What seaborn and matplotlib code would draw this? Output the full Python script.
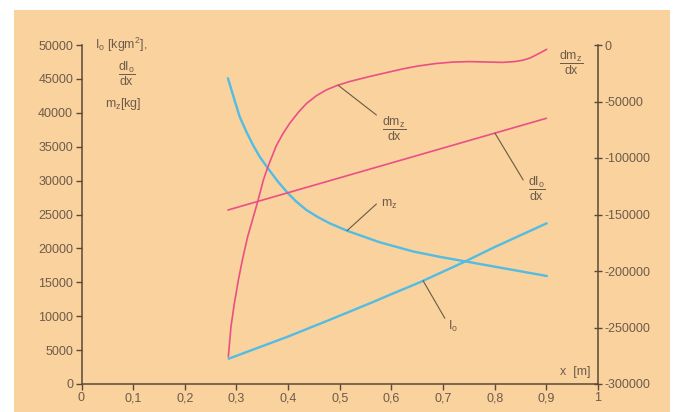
import numpy as np
import pandas as pd
import matplotlib
matplotlib.use("Agg")
import matplotlib.pyplot as plt
from matplotlib.patches import Rectangle
import seaborn as sns

# ---------------- data ----------------
x_dmz = [0.2843, 0.2894, 0.296, 0.3037, 0.3114, 0.3217, 0.3328, 0.3411, 0.3521, 0.361,
         0.3773, 0.39, 0.4031, 0.42, 0.4355, 0.455, 0.4742, 0.495, 0.5194, 0.5568,
         0.59, 0.6215, 0.65, 0.686, 0.72, 0.7506, 0.78, 0.8153, 0.84, 0.854, 0.868,
         0.8798, 0.89, 0.9006]
dmz_dx = [-275800, -249300, -228500, -208000, -190300, -169600, -151900, -138700, -119500,
          -107700, -89000, -78500, -69300, -59500, -51800, -44800, -39700, -35800, -32300,
          -28000, -24500, -21200, -18700, -16400, -15100, -14700, -15000, -15400, -14600,
          -13500, -11600, -8900, -6500, -3800]

x_mz = [0.2835, 0.2933, 0.3062, 0.3192, 0.332, 0.345, 0.361, 0.3804, 0.3998, 0.416,
        0.4355, 0.458, 0.4806, 0.516, 0.5775, 0.642, 0.6938, 0.742, 0.815, 0.901]
m_z = [45090, 42620, 39430, 37210, 35250, 33520, 31810, 29840, 28130, 26890,
       25660, 24600, 23700, 22550, 20900, 19550, 18750, 18100, 17100, 15930]

x_io = [0.2849, 0.4, 0.48, 0.56, 0.6, 0.655, 0.742, 0.8, 0.9006]
I_o = [3730, 7000, 9450, 11950, 13250, 15000, 18040, 20200, 23700]

x_dio = [0.2835, 0.9]
dIo_dx = [25660, 39190]

x_ticks = [0, 0.1, 0.2, 0.3, 0.4, 0.5, 0.6, 0.7, 0.8, 0.9, 1.0]
x_ticklabels = ["0", "0,1", "0,2", "0,3", "0,4", "0,5", "0,6", "0,7", "0,8", "0,9", "1"]
left_ticks = [0, 5000, 10000, 15000, 20000, 25000, 30000, 35000, 40000, 45000, 50000]
right_ticks = [0, -50000, -100000, -150000, -200000, -250000, -300000]

# ---------------- style ----------------
sns.set_theme(style="ticks")
plt.rcParams["font.family"] = ["Liberation Sans", "DejaVu Sans"]
plt.rcParams["mathtext.fontset"] = "custom"
plt.rcParams["mathtext.rm"] = "Liberation Sans"

BG = "#F9D29E"
INK = "#5c4838"
TXT = "#6f5b49"
PINK = "#EA4F85"
BLUE = "#52BCE3"
FS = 9

W, H = 676, 412
fig = plt.figure(figsize=(W / 100, H / 100), dpi=100, facecolor="white")
bg = Rectangle((14 / W, 0), (670 - 14) / W, (H - 10) / H,
               transform=fig.transFigure, facecolor=BG, edgecolor="none", zorder=-10)
fig.patches.append(bg)

ax = fig.add_axes([81.5 / W, (H - 384) / H, (598 - 81.5) / W, (384 - 45) / H])
ax.set_facecolor("none")
ax2 = ax.twinx()
ax2.set_facecolor("none")

# left-axis series
sns.lineplot(x=x_mz, y=m_z, ax=ax, color=BLUE, lw=1.7, estimator=None, sort=False)
sns.lineplot(x=x_io, y=I_o, ax=ax, color=BLUE, lw=1.7, estimator=None, sort=False)
sns.lineplot(x=x_dio, y=dIo_dx, ax=ax, color=PINK, lw=1.2, estimator=None, sort=False)
# right-axis series
sns.lineplot(x=x_dmz, y=dmz_dx, ax=ax2, color=PINK, lw=1.2, estimator=None, sort=False)

ax.set_xlim(0, 1)
ax.set_ylim(0, 50000)
ax2.set_ylim(-300000, 0)
ax.set_xlabel("")
ax.set_ylabel("")
ax2.set_ylabel("")

ax.set_xticks(x_ticks)
ax.set_xticklabels(x_ticklabels)
ax.set_yticks(left_ticks)
ax.set_yticklabels([str(v) for v in left_ticks])
ax2.set_yticks(right_ticks)
ax2.set_yticklabels([str(v) for v in right_ticks])

for a in (ax, ax2):
    for s in a.spines.values():
        s.set_color(INK)
        s.set_linewidth(1.1)
    a.spines["top"].set_visible(False)
ax.spines["right"].set_visible(False)
ax2.spines["left"].set_visible(False)
ax2.spines["bottom"].set_visible(False)

ax.tick_params(axis="x", direction="out", length=4, width=1, color=INK,
               labelcolor=TXT, labelsize=FS, pad=2)
ax.tick_params(axis="y", direction="out", length=4, width=1, color=INK,
               labelcolor=TXT, labelsize=FS, pad=2)
ax2.tick_params(axis="y", direction="inout", length=6, width=1, color=INK,
                labelcolor=TXT, labelsize=FS, pad=2)

# ---------------- labels ----------------
def frac(a, x, y, num, den):
    a.text(x, y, r"$\dfrac{\mathregular{%s}}{\mathregular{%s}}$" % (num, den),
           ha="center", va="center", color=TXT, fontsize=FS)

ax.text(0.027, 50000, r"$\mathregular{I_o}$ [kgm$\mathregular{^2}$],", ha="left", va="center",
        color=TXT, fontsize=FS)
frac(ax, 0.088, 45700, "dI_o", "dx")
ax.text(0.08, 41300, r"$\mathregular{m_z}$[kg]", ha="center", va="center", color=TXT, fontsize=FS)

frac(ax, 0.9486, 47390, "dm_z", "dx")
ax.text(0.9858, 1810, "x  [m]", ha="right", va="center", color=TXT, fontsize=FS)

lead = dict(arrowstyle="-", color="#6b5a48", lw=0.8, shrinkA=0, shrinkB=0)

# dm_z/dx leader (right axis coordinates)
xa = 0.4967
ax2.annotate("", xy=(xa, np.interp(xa, x_dmz, dmz_dx)), xytext=(0.571, -61950), arrowprops=lead)
frac(ax, 0.6047, 37570, "dm_z", "dx")

# dI_o/dx leader
xa = 0.8004
ax.annotate("", xy=(xa, np.interp(xa, x_dio, dIo_dx)), xytext=(0.8552, 30090), arrowprops=lead)
frac(ax, 0.8818, 28760, "dI_o", "dx")

# m_z leader
xa = 0.5141
ax.annotate("", xy=(xa, np.interp(xa, x_mz, m_z)), xytext=(0.571, 26550), arrowprops=lead)
ax.text(0.5808, 26500, r"$\mathregular{m_z}$", ha="left", va="center", color=TXT, fontsize=FS)

# I_o leader
xa = 0.6614
ax.annotate("", xy=(xa, np.interp(xa, x_io, I_o)), xytext=(0.7035, 9690), arrowprops=lead)
ax.text(0.71, 8450, r"$\mathregular{I_o}$", ha="left", va="center", color=TXT, fontsize=FS)

fig.savefig("out.png", dpi=100, facecolor="white")
